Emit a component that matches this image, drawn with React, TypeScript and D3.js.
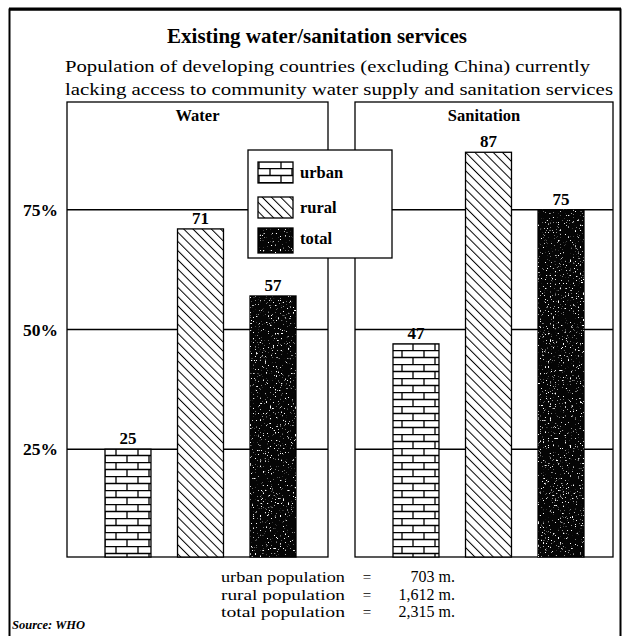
import React from 'react'
import * as d3 from 'd3'

const categories = ['urban', 'rural', 'total']
const waterValues = [25, 71, 57]
const sanitationValues = [47, 87, 75]
const yTicks = [25, 50, 75]
const popLabels = ['urban population', 'rural population', 'total population']
const popValues = ['703 m.', '1,612 m.', '2,315 m.']

const W = 630
const H = 636
const FONT = '"Liberation Serif", "DejaVu Serif", serif'

const y = d3.scaleLinear().domain([0, 100]).range([569, 90])
const panelTop = 102
const panelBottom = 557

const panels = [
  { name: 'Water', x0: 67, x1: 328, values: waterValues },
  { name: 'Sanitation', x0: 355, x1: 613, values: sanitationValues },
]

const fills: Record<string, string> = {
  urban: 'url(#brick)',
  rural: 'url(#hatch)',
  total: '#050505',
}

function Bar({ cat, x, w, top }: { cat: string; x: number; w: number; top: number }) {
  const h = panelBottom - top
  return (
    <g>
      <rect x={x} y={top} width={w} height={h} fill={fills[cat]} stroke="#000" strokeWidth={1.3} />
      {cat === 'total' && (
        <rect x={x} y={top} width={w} height={h} fill="#fff" filter="url(#speck)" />
      )}
    </g>
  )
}

export default function App() {
  return (
    <svg width={W} height={H} style={{ position: 'absolute', left: 0, top: 0, background: '#fff' }}>
      <defs>
        <pattern id="brick" patternUnits="userSpaceOnUse" width={22} height={14}>
          <rect width={22} height={14} fill="#fff" />
          <path d="M0 0.5H22M0 7.5H22M6 0.5V7.5M17 7.5V14" stroke="#000" strokeWidth={1.3} fill="none" />
        </pattern>
        <pattern id="hatch" patternUnits="userSpaceOnUse" width={6.5} height={6.5} patternTransform="rotate(-45)">
          <rect width={6.5} height={6.5} fill="#fff" />
          <line x1={0} y1={0} x2={0} y2={6.5} stroke="#000" strokeWidth={2} />
        </pattern>
        <filter id="speck" x="0" y="0" width="1" height="1">
          <feTurbulence type="fractalNoise" baseFrequency="0.6" numOctaves={2} seed={4} result="n" />
          <feColorMatrix in="n" type="matrix" values="0 0 0 0 1  0 0 0 0 1  0 0 0 0 1  10 0 0 0 -6.5" result="m" />
          <feComposite in="m" in2="SourceGraphic" operator="in" />
        </filter>
      </defs>

      {/* outer frame */}
      <path d="M9.5 650V9.5H620.5V650" fill="none" stroke="#000" strokeWidth={2} />
      <line x1={9} y1={9} x2={621} y2={9} stroke="#000" strokeWidth={3} />

      <text x={317} y={43} textAnchor="middle" fontFamily={FONT} fontWeight="bold" fontSize={21}>
        Existing water/sanitation services
      </text>
      <text x={65} y={72} fontFamily={FONT} fontSize={17.5} textLength={525} lengthAdjust="spacingAndGlyphs">
        Population of developing countries (excluding China) currently
      </text>
      <text x={65} y={95} fontFamily={FONT} fontSize={17.5} textLength={548} lengthAdjust="spacingAndGlyphs">
        lacking access to community water supply and sanitation services
      </text>

      {yTicks.map(t => (
        <text key={t} x={58} y={y(t)} dy="0.35em" textAnchor="end" fontFamily={FONT} fontWeight="bold" fontSize={17.5}>
          {t}%
        </text>
      ))}

      {panels.map(p => {
        const x = d3.scaleBand().domain(categories).range([p.x0 + 38, p.x0 + 229]).paddingInner(0.366)
        return (
          <g key={p.name}>
            <rect x={p.x0} y={panelTop} width={p.x1 - p.x0} height={panelBottom - panelTop} fill="#fff" stroke="#000" strokeWidth={1.3} />
            {yTicks.map(t => (
              <line key={t} x1={p.x0} x2={p.x1} y1={y(t)} y2={y(t)} stroke="#000" strokeWidth={1.3} />
            ))}
            <text x={(p.x0 + p.x1) / 2} y={121} textAnchor="middle" fontFamily={FONT} fontWeight="bold" fontSize={16.5}>
              {p.name}
            </text>
            {categories.map((c, i) => (
              <g key={c}>
                <Bar cat={c} x={x(c)!} w={x.bandwidth()} top={y(p.values[i])} />
                <text x={x(c)! + x.bandwidth() / 2} y={y(p.values[i]) - 5} textAnchor="middle" fontFamily={FONT} fontWeight="bold" fontSize={17}>
                  {p.values[i]}
                </text>
              </g>
            ))}
          </g>
        )
      })}

      {/* legend */}
      <g>
        <rect x={248} y={150} width={144} height={108} fill="#fff" stroke="#000" strokeWidth={1.3} />
        {categories.map((c, i) => {
          const ly = [162, 197, 228][i]
          const lh = c === 'total' ? 25 : 21
          return (
            <g key={c}>
              <rect x={258} y={ly} width={35} height={lh} fill={fills[c]} stroke="#000" strokeWidth={1.3} />
              {c === 'total' && <rect x={258} y={ly} width={35} height={lh} fill="#fff" filter="url(#speck)" />}
              <text x={300} y={ly + 16} fontFamily={FONT} fontWeight="bold" fontSize={16.5}>{c}</text>
            </g>
          )
        })}
      </g>

      {popLabels.map((l, i) => (
        <g key={l} fontFamily={FONT} fontSize={15}>
          <text x={221} y={582 + i * 17.5} textLength={124} lengthAdjust="spacingAndGlyphs">{l}</text>
          <text x={367} y={582 + i * 17.5} textAnchor="middle">=</text>
          <text x={455} y={582 + i * 17.5} textAnchor="end" fontSize={16}>{popValues[i]}</text>
        </g>
      ))}

      <text x={12} y={629} fontFamily={FONT} fontStyle="italic" fontWeight="bold" fontSize={12.5}>
        Source: WHO
      </text>
    </svg>
  )
}
